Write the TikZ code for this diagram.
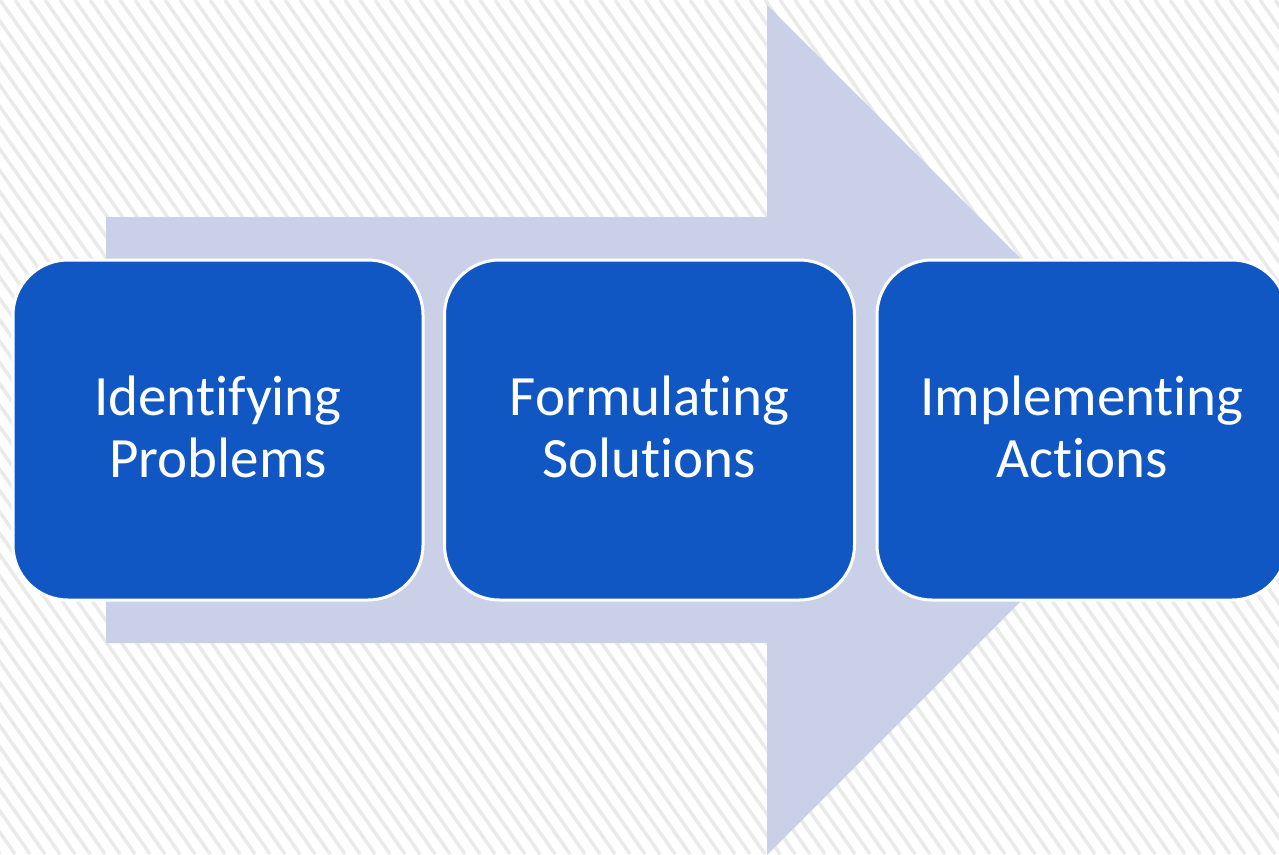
\documentclass[tikz,border=0pt]{standalone}
\usepackage{fontspec}
\setmainfont[Ligatures={NoCommon}]{Carlito}
\definecolor{boxblue}{HTML}{1157C4}
\definecolor{arrowfill}{HTML}{CBD0E9}
\definecolor{stripegray}{HTML}{EAEAEA}
\begin{document}
\begin{tikzpicture}[x=1pt,y=-1pt,
  stripe/.style={draw=stripegray, line width=3.5pt},
  bigarrow/.style={fill=arrowfill},
  stepbox/.style={draw=white, line width=3pt, fill=boxblue, rounded corners=55pt,
    minimum width=410pt, minimum height=340pt},
  steptext/.style={text=white, align=center, anchor=base,
    font=\fontsize{57}{62}\selectfont, inner sep=0pt},
]
\fill[white] (0,0) rectangle (1279,854);
\useasboundingbox (0,0) rectangle (1279,854);
\begin{scope}
  \clip (0,0) rectangle (1279,854);
  \foreach \i in {-45,...,90} \draw[stripe] (\i*15,0) -- ++(600,854);
\end{scope}
\path[bigarrow] (106,217) -- (767,217) -- (767,5) -- (1192,430) -- (767,855)
  -- (767,643) -- (106,643) -- cycle;
\node[stepbox] (b1) at (218,430) {};
\node[stepbox] (b2) at (649.5,430) {};
\node[stepbox] (b3) at (1082,430) {};
\node[steptext] (t1) at (218,477) {Identifying\\Problems};
\node[steptext] (t2) at (649.5,477) {Formulating\\Solutions};
\node[steptext] (t3) at (1082,477) {Implementing\\Actions};
\end{tikzpicture}
\end{document}
